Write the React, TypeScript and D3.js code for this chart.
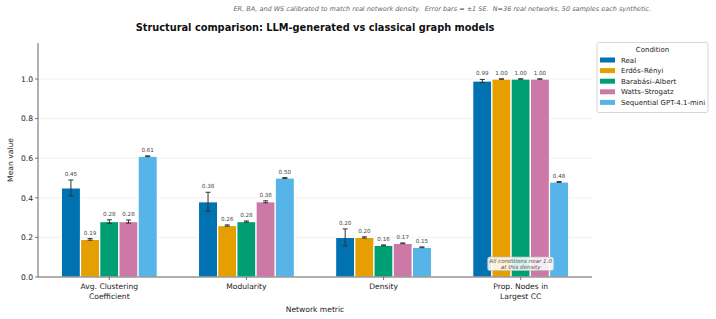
import React from "react";
import * as d3 from "d3";

// Metrics on the x axis
const metrics = ["Avg. Clustering\nCoefficient", "Modularity", "Density", "Prop. Nodes in\nLargest CC"];
// Conditions (series)
const conditions = ["Real", "Erdős–Rényi", "Barabási–Albert", "Watts–Strogatz", "Sequential GPT-4.1-mini"];
const colors = ["#0072B2", "#E69F00", "#009E73", "#CC79A7", "#56B4E9"];

// Mean values per condition, in metric order
const realMeans = [0.45, 0.38, 0.2, 0.99];
const erMeans = [0.19, 0.26, 0.2, 1.0];
const baMeans = [0.28, 0.28, 0.16, 1.0];
const wsMeans = [0.28, 0.38, 0.17, 1.0];
const seqMeans = [0.61, 0.5, 0.15, 0.48];

// Standard errors per condition
const realSE = [0.04, 0.048, 0.043, 0.008];
const erSE = [0.004, 0.003, 0.003, 0.001];
const baSE = [0.009, 0.003, 0.002, 0.001];
const wsSE = [0.008, 0.005, 0.002, 0.001];
const seqSE = [0.002, 0.002, 0.002, 0.002];

const yTicks = [0, 0.2, 0.4, 0.6, 0.8, 1.0];

const means = [realMeans, erMeans, baMeans, wsMeans, seqMeans];
const ses = [realSE, erSE, baSE, wsSE, seqSE];

const FONT = "DejaVu Sans, sans-serif";

export default function App() {
  const W = 716, H = 319;
  const left = 38, right = 592, top = 43, bottom = 277;
  const barW = 0.14;

  const x = d3.scaleLinear().domain([-0.52, 3.52]).range([left, right]);
  const y = d3.scaleLinear().domain([0, 1.182]).range([bottom, top]);
  const unit = x(1) - x(0);

  return (
    <svg width={W} height={H} style={{ position: "absolute", left: 0, top: 0, background: "#fff" }} fontFamily={FONT}>
      {/* subtitle */}
      <text x={651} y={11} textAnchor="end" fontSize={6.5} fontStyle="italic" fill="#666" style={{ whiteSpace: "pre" }}>
        {"ER, BA, and WS calibrated to match real network density.  Error bars = ±1 SE.  N=36 real networks, 50 samples each synthetic."}
      </text>
      {/* title */}
      <text x={315} y={30.5} textAnchor="middle" fontSize={9.8} fontWeight="bold" fill="#111">
        Structural comparison: LLM-generated vs classical graph models
      </text>

      {/* gridlines */}
      {yTicks.map((t) => (
        <line key={"g" + t} x1={left} x2={right} y1={y(t)} y2={y(t)} stroke="#ececec" strokeWidth={0.8} />
      ))}

      {/* bars */}
      {means.map((series, ci) =>
        series.map((v, mi) => {
          const cx = x(mi + (ci - 2) * barW);
          const bx = cx - (barW * unit) / 2;
          return (
            <rect key={`b${ci}-${mi}`} x={bx} y={y(v)} width={barW * unit} height={y(0) - y(v)}
              fill={colors[ci]} stroke="#fff" strokeWidth={1.2} />
          );
        })
      )}

      {/* error bars and value labels */}
      {means.map((series, ci) =>
        series.map((v, mi) => {
          const cx = x(mi + (ci - 2) * barW);
          const se = ses[ci][mi];
          const yt = y(v + se), yb = y(v - se);
          return (
            <g key={`e${ci}-${mi}`}>
              <line x1={cx} x2={cx} y1={yt} y2={yb} stroke="#333" strokeWidth={1} />
              <line x1={cx - 2.5} x2={cx + 2.5} y1={yt} y2={yt} stroke="#333" strokeWidth={1} />
              <line x1={cx - 2.5} x2={cx + 2.5} y1={yb} y2={yb} stroke="#333" strokeWidth={1} />
              <text x={cx} y={yt - 4} textAnchor="middle" fontSize={5.6} fill="#444">
                {v.toFixed(2)}
              </text>
            </g>
          );
        })
      )}

      {/* annotation */}
      <g>
        <rect x={x(3) - 33} y={257} width={66} height={13.5} rx={2} fill="#fff" fillOpacity={0.85} stroke="#bbb" strokeWidth={0.7} />
        <text x={x(3)} y={262.8} textAnchor="middle" fontSize={5.6} fontStyle="italic" fill="#555">All conditions near 1.0</text>
        <text x={x(3)} y={269} textAnchor="middle" fontSize={5.6} fontStyle="italic" fill="#555">at this density</text>
      </g>

      {/* axes */}
      <line x1={left} x2={left} y1={top} y2={bottom} stroke="#555" strokeWidth={0.9} />
      <line x1={left} x2={right} y1={bottom} y2={bottom} stroke="#555" strokeWidth={0.9} />
      {yTicks.map((t) => (
        <g key={"yt" + t}>
          <line x1={left - 3} x2={left} y1={y(t)} y2={y(t)} stroke="#555" strokeWidth={0.8} />
          <text x={left - 5} y={y(t) + 2.8} textAnchor="end" fontSize={7.6} fill="#222">{t.toFixed(1)}</text>
        </g>
      ))}
      {metrics.map((m, i) => (
        <g key={"xt" + i}>
          <line x1={x(i)} x2={x(i)} y1={bottom} y2={bottom + 3} stroke="#555" strokeWidth={0.8} />
          {m.split("\n").map((line, li) => (
            <text key={li} x={x(i)} y={bottom + 12 + li * 9.5} textAnchor="middle" fontSize={7.6} fill="#222">{line}</text>
          ))}
        </g>
      ))}
      <text x={315} y={312} textAnchor="middle" fontSize={7.6} fill="#222">Network metric</text>
      <text transform={`translate(13,160) rotate(-90)`} textAnchor="middle" fontSize={7.6} fill="#222">Mean value</text>

      {/* legend */}
      <g>
        <rect x={597} y={42.5} width={111} height={70} rx={2} fill="#fff" stroke="#ccc" strokeWidth={0.8} />
        <text x={652.5} y={52} textAnchor="middle" fontSize={7} fill="#222">Condition</text>
        {conditions.map((c, i) => (
          <g key={"l" + i}>
            <rect x={600} y={57.5 + i * 10.6} width={15} height={5} fill={colors[i]} />
            <text x={621} y={62.6 + i * 10.6} fontSize={7} fill="#222">{c}</text>
          </g>
        ))}
      </g>
    </svg>
  );
}
